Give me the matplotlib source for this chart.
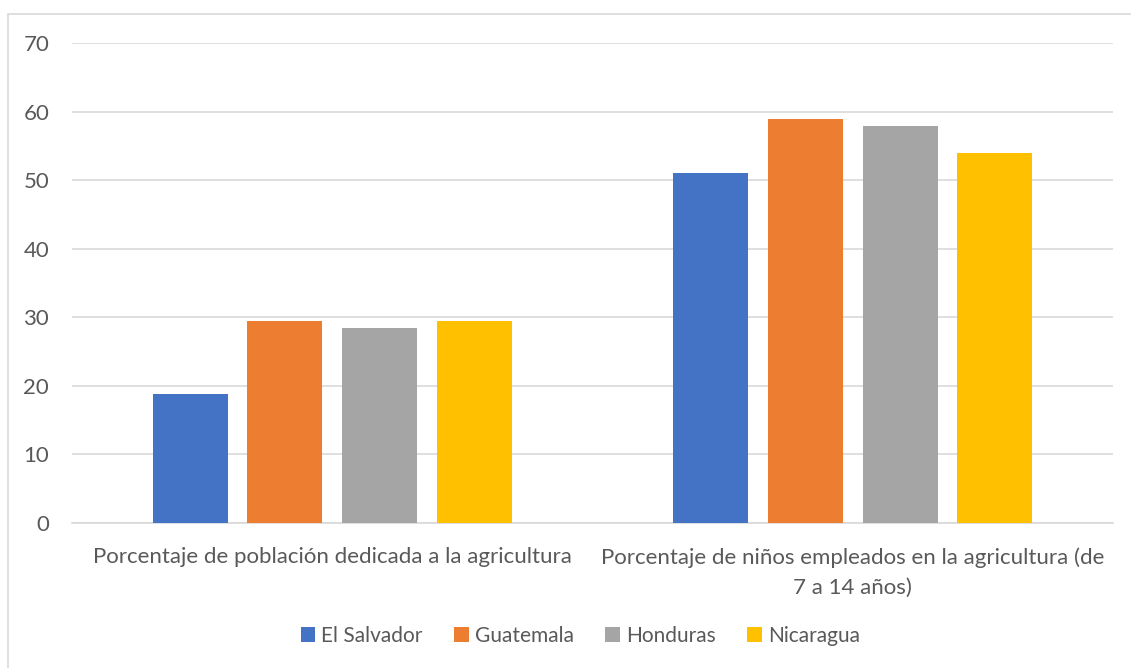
import matplotlib.pyplot as plt
import numpy as np
from matplotlib.patches import Rectangle

plt.rcParams['font.family'] = ['Lato', 'DejaVu Sans']

# Data
categories = ['Porcentaje de población dedicada a la agricultura',
              'Porcentaje de niños empleados en la agricultura (de\n7 a 14 años)']
series = ['El Salvador', 'Guatemala', 'Honduras', 'Nicaragua']
el_salvador = [18.8, 51.0]
guatemala = [29.4, 58.9]
honduras = [28.5, 57.9]
nicaragua = [29.4, 53.9]
colors = ['#4472C4', '#ED7D31', '#A5A5A5', '#FFC000']

values = [el_salvador, guatemala, honduras, nicaragua]

fig = plt.figure(figsize=(11.31, 6.68), dpi=100)
ax = fig.add_axes([0.0637, 0.2171, 0.9203, 0.7185])

# outer chart border
fig.patches.append(Rectangle((8 / 1131, -0.01), 1.0, 1 - 14 / 668 + 0.01,
                             transform=fig.transFigure, fill=False,
                             edgecolor='#d9d9d9', linewidth=1.2))

x = np.arange(len(categories))
width = 0.144
step = 0.182
for i, (name, vals) in enumerate(zip(series, values)):
    ax.bar(x + (i - 1.5) * step, vals, width, color=colors[i], label=name, zorder=3)

ax.set_xlim(-0.5, 1.5)
ax.set_ylim(0, 70)
ax.set_yticks(range(0, 71, 10))
ax.yaxis.grid(True, color='#d9d9d9', linewidth=1.2, zorder=0)
for s in ['top', 'right', 'left']:
    ax.spines[s].set_visible(False)
ax.spines['bottom'].set_color('#d9d9d9')
ax.spines['bottom'].set_linewidth(1.2)
ax.tick_params(axis='both', length=0, labelsize=16, colors='#595959')
ax.tick_params(axis='y', pad=16.5)
ax.tick_params(axis='x', pad=17.5)
ax.set_xticks(x)
ax.set_xticklabels(categories, linespacing=1.6)

leg = fig.legend(loc='center', bbox_to_anchor=(0.513, 1 - 636 / 668), ncol=4,
                 frameon=False, fontsize=15, handlelength=0.7, handleheight=0.7,
                 columnspacing=1.5, handletextpad=0.3)
for t in leg.get_texts():
    t.set_color('#595959')

fig.savefig('out.png', dpi=100)
